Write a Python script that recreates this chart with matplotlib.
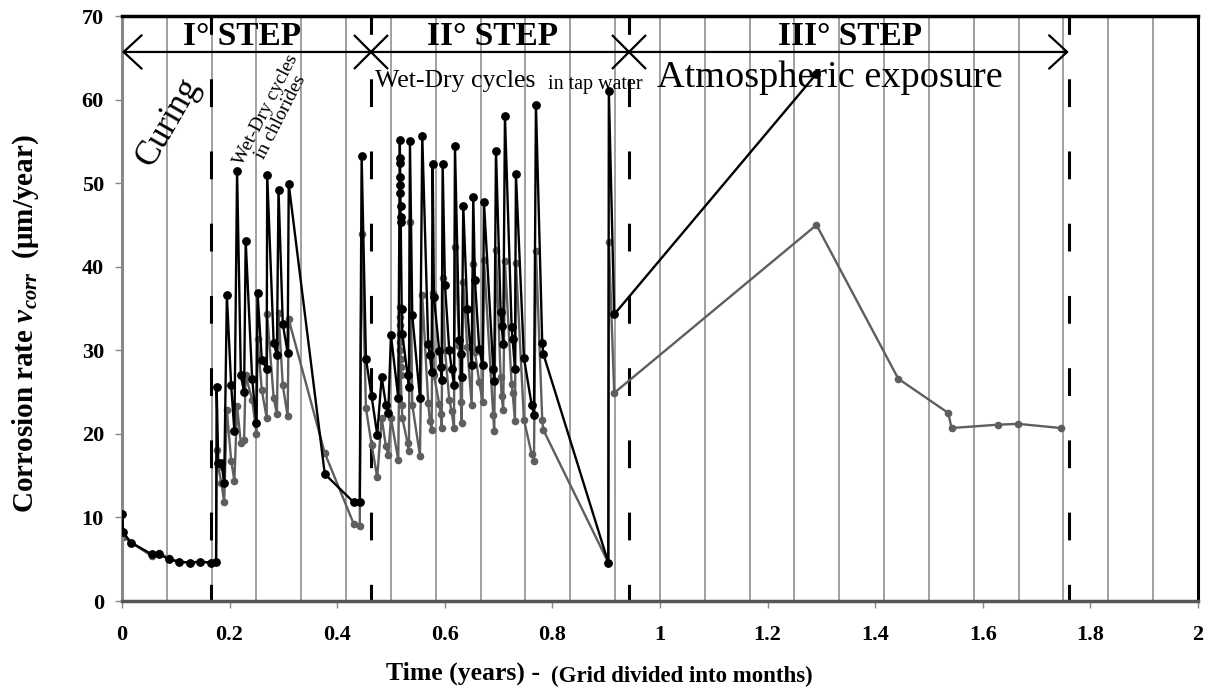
import numpy as np
import matplotlib
matplotlib.use("Agg")
import matplotlib.pyplot as plt

plt.rcParams['font.family'] = ['Liberation Serif', 'DejaVu Serif']
plt.rcParams['mathtext.fontset'] = 'custom'
plt.rcParams['mathtext.rm'] = 'Liberation Serif'
plt.rcParams['mathtext.bf'] = 'Liberation Serif:bold'
plt.rcParams['mathtext.bfit'] = 'Liberation Serif:italic:bold'
plt.rcParams['lines.scale_dashes'] = False

# curing
t_curing = [0.001, 0.002, 0.017, 0.055, 0.069, 0.087, 0.106, 0.126, 0.145, 0.165, 0.175]
black_curing = [10.4, 8.2, 7.0, 5.6, 5.6, 5.0, 4.7, 4.6, 4.7, 4.6, 4.7]
gray_curing = [8.3, 7.7, 7.0, 5.4, 5.8, 5.1, 4.7, 4.6, 4.7, 4.6, 4.7]

# wet-dry cycles in chlorides
t_chloride = [0.176, 0.179, 0.185, 0.190, 0.195, 0.203, 0.209, 0.214, 0.221, 0.227,
              0.230, 0.242, 0.250, 0.252, 0.260, 0.269, 0.270, 0.282, 0.288, 0.291,
              0.299, 0.308, 0.310, 0.377, 0.431, 0.442]
black_chloride = [25.6, 16.5, 16.5, 14.1, 36.6, 25.8, 20.3, 51.4, 27.0, 25.0,
                  43.1, 26.6, 21.3, 36.9, 28.8, 27.8, 51.0, 30.9, 29.4, 49.2,
                  33.1, 29.7, 49.9, 15.2, 11.8, 11.8]
gray_chloride = [18.1, 16.0, 14.1, 11.8, 22.9, 16.8, 14.4, 23.3, 18.9, 19.3,
                 27.0, 24.1, 20.0, 31.4, 25.2, 21.9, 34.3, 24.3, 22.4, 34.5,
                 25.8, 22.1, 33.7, 17.7, 9.2, 9.0]

# wet-dry cycles in tap water
t_tap = [0.4455, 0.4535, 0.464, 0.4745, 0.4827, 0.4907, 0.495, 0.500, 0.5136,
         0.5165, 0.5168, 0.5170, 0.5172, 0.5174, 0.5176, 0.5178, 0.5180, 0.5182,
         0.520, 0.521, 0.531, 0.5335, 0.5353, 0.5396, 0.5539, 0.5582, 0.5693,
         0.5725, 0.5756, 0.5775, 0.5799, 0.5898, 0.5924, 0.5942, 0.5961, 0.6004,
         0.6084, 0.6128, 0.6171, 0.619, 0.627, 0.6301, 0.6314, 0.6344, 0.6418,
         0.650, 0.653, 0.6561, 0.6641, 0.6704, 0.6729, 0.6901, 0.692, 0.6952,
         0.7039, 0.7058, 0.7087, 0.7119, 0.7243, 0.7262, 0.7305, 0.7323, 0.7472,
         0.7615, 0.7658, 0.7695, 0.7812, 0.7831, 0.904, 0.905, 0.915]
black_tap = [53.3, 29.0, 24.5, 19.9, 26.8, 23.5, 22.5, 31.8, 24.3,
             55.2, 53.0, 52.4, 50.7, 49.8, 48.8, 47.3, 46.0, 45.4,
             34.9, 32.0, 27.0, 25.6, 55.0, 34.2, 24.3, 55.7, 30.7,
             29.4, 27.4, 52.3, 36.4, 29.9, 28.0, 26.4, 52.3, 37.8,
             30.0, 27.8, 25.9, 54.4, 31.2, 29.6, 26.8, 47.3, 35.0,
             28.2, 48.4, 38.4, 30.2, 28.2, 47.7, 27.8, 26.3, 53.9,
             34.6, 32.9, 30.8, 58.0, 32.8, 31.3, 27.8, 51.1, 29.1,
             23.5, 22.3, 59.4, 30.9, 29.6, 4.6, 61.0, 34.3]
gray_tap = [43.9, 23.1, 18.7, 14.8, 21.9, 18.5, 17.5, 21.9, 16.9,
            35.2, 34.0, 33.0, 32.0, 31.0, 30.0, 29.0, 28.0, 27.0,
            23.5, 21.9, 18.9, 17.9, 45.3, 23.5, 17.4, 36.6, 23.7,
            21.5, 20.5, 36.9, 27.0, 23.6, 22.4, 20.7, 38.7, 30.0,
            24.1, 22.7, 20.7, 42.4, 30.5, 23.8, 21.3, 38.2, 30.4,
            23.5, 40.3, 29.8, 26.2, 23.8, 40.8, 22.3, 20.3, 42.0,
            26.8, 24.5, 22.9, 40.7, 26.0, 24.9, 21.6, 40.5, 21.7,
            17.6, 16.8, 41.9, 21.7, 20.5, 4.6, 43.0, 24.9]

# atmospheric exposure
t_atm_black = [1.291]
black_atm = [63.1]
t_atm_gray = [1.291, 1.443, 1.536, 1.542, 1.628, 1.666, 1.745]
gray_atm = [45.0, 26.6, 22.5, 20.7, 21.1, 21.2, 20.7]

step_bounds = [0.1654, 0.4628, 0.9424, 1.760]
step_names = ["I° STEP", "II° STEP", "III° STEP"]
step_label_x = [0.223, 0.688, 1.353]

t_black = np.concatenate([t_curing, t_chloride, t_tap, t_atm_black])
v_black = np.concatenate([black_curing, black_chloride, black_tap, black_atm])
t_gray = np.concatenate([t_curing, t_chloride, t_tap, t_atm_gray])
v_gray = np.concatenate([gray_curing, gray_chloride, gray_tap, gray_atm])

fig = plt.figure(figsize=(12.22, 6.97), dpi=100)
ax = fig.add_axes([0.0998, 0.1377, 0.8805, 0.8393])

ax.set_xlim(0, 2)
ax.set_ylim(0, 70)

# month grid
for m in range(1, 24):
    ax.axvline(m / 12.0, color='#a0a0a0', lw=1.4, zorder=0)

# step boundaries
ax.vlines(step_bounds, 0, 70, colors='black', lw=2.2,
          linestyles=[(8, (20, 32))], zorder=1)

ax.plot(t_gray, v_gray, color='#5e5e5e', lw=1.7, marker='o', ms=4.5, zorder=2)
ax.plot(t_black, v_black, color='black', lw=1.7, marker='o', ms=5.3, zorder=3)

# step arrow
arrow_y = 65.7
ax.annotate('', xy=(step_bounds[-1], arrow_y), xytext=(0, arrow_y),
            arrowprops=dict(arrowstyle='<->,head_length=1.3,head_width=1.2',
                            mutation_scale=10, lw=1.6, color='black',
                            shrinkA=0, shrinkB=0), zorder=4)
ax.plot(step_bounds[1:3], [arrow_y, arrow_y], 'x', color='black', ms=24, mew=1.6, zorder=4)

for name, xc in zip(step_names, step_label_x):
    ax.text(xc, 67.5, name, ha='center', va='center', fontsize=24, fontweight='bold')

ax.text(0.0855, 57.3, "Curing", rotation=60, ha='center', va='center', fontsize=25)
ax.text(0.281, 58.3, "Wet-Dry cycles\nin chlorides", rotation=63, ha='center', va='center',
        fontsize=14, linespacing=0.95)
ax.text(0.470, 62.2, "Wet-Dry cycles", ha='left', va='center', fontsize=18.5)
ax.text(0.791, 61.8, "in tap water", ha='left', va='center', fontsize=14.5)
ax.text(1.316, 62.6, "Atmospheric exposure", ha='center', va='center', fontsize=27.5)

ax.set_xticks(np.arange(0, 2.01, 0.2))
ax.set_xticklabels(['0', '0.2', '0.4', '0.6', '0.8', '1', '1.2', '1.4', '1.6', '1.8', '2'])
ax.set_yticks(np.arange(0, 71, 10))
for lab in ax.get_xticklabels() + ax.get_yticklabels():
    lab.set_fontweight('bold')
    lab.set_fontsize(16)
ax.tick_params(axis='both', direction='out', length=5, width=1, color='#888888')
ax.tick_params(axis='x', pad=12)
ax.tick_params(axis='y', pad=8)

ax.spines['top'].set_linewidth(2.5)
ax.spines['top'].set_color('black')
ax.spines['right'].set_linewidth(2.2)
ax.spines['right'].set_color('black')
ax.spines['bottom'].set_linewidth(2.5)
ax.spines['bottom'].set_color('#555555')
ax.spines['left'].set_linewidth(2.2)
ax.spines['left'].set_color('#888888')

fig.text(0.021, 0.535, r"Corrosion rate $\mathbfit{v}_{\mathbfit{corr}}$  (μm/year)",
         rotation=90, ha='center', va='center', fontsize=21, fontweight='bold')
fig.text(0.447, 0.034, "Time (years) - ", ha='right', va='center', fontsize=18.5, fontweight='bold')
fig.text(0.451, 0.030, "(Grid divided into months)", ha='left', va='center', fontsize=16.5,
         fontweight='bold')

fig.savefig("out.png", dpi=100)
